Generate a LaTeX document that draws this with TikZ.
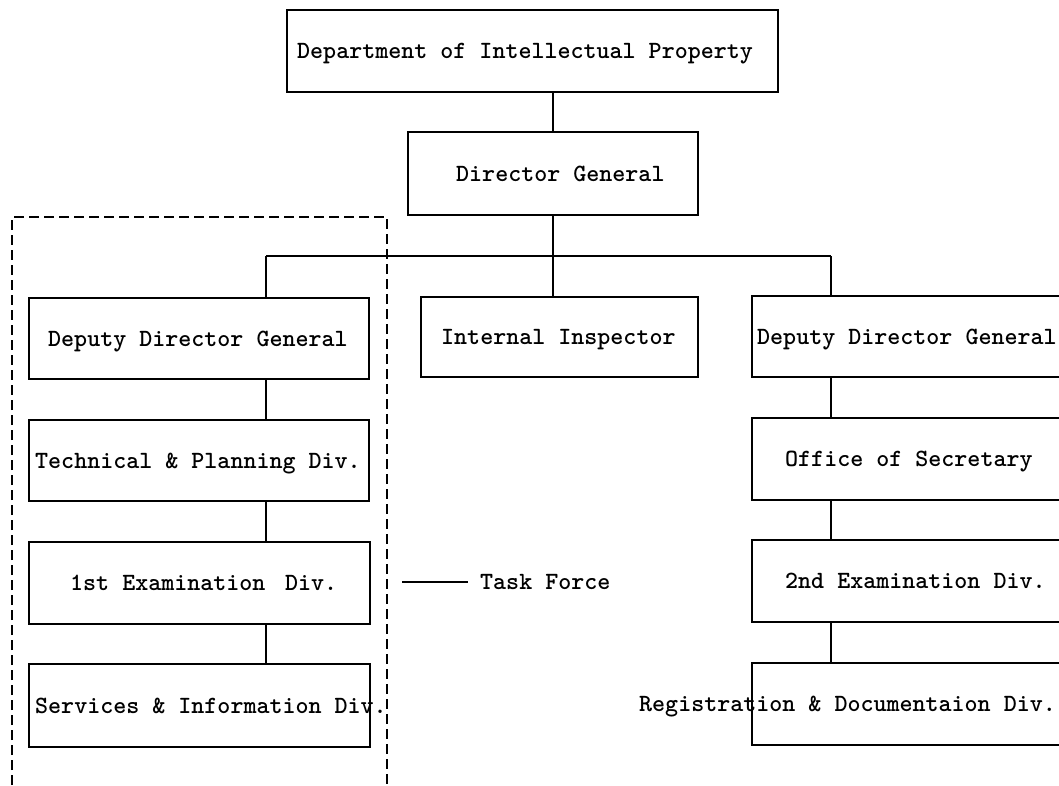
\documentclass[tikz,border=0pt]{standalone}
\begin{document}
\begin{tikzpicture}[x=1bp,y=-1bp,
  box/.style={draw, line width=1.7bp, inner sep=0pt},
  lbl/.style={anchor=base west, inner sep=0pt,
    font=\fontsize{24.8bp}{30bp}\selectfont\ttfamily\bfseries},
  link/.style={line width=2.2bp},
  taskline/.style={line width=1.6bp},
  groupframe/.style={line width=1.8bp, dash pattern=on 10bp off 5bp}]

\useasboundingbox (0,0) rectangle (1059,786);
\fill[white] (0,0) rectangle (1059,786);
\clip (0,0) rectangle (1059,786);

% boxes (centre, size)
\node[box, minimum width=491bp, minimum height=82bp] (dip)   at (532.5,51)  {};
\node[box, minimum width=290bp, minimum height=83bp] (dg)    at (553,173.5) {};
\node[box, minimum width=340bp, minimum height=81bp] (ddgL)  at (199,338.5) {};
\node[box, minimum width=277bp, minimum height=80bp] (ii)    at (559.5,337) {};
\node[box, minimum width=323bp, minimum height=81bp] (ddgR)  at (913.5,336.5) {};
\node[box, minimum width=340bp, minimum height=81bp] (tech)  at (199,460.5) {};
\node[box, minimum width=341bp, minimum height=82bp] (exam1) at (199.5,583) {};
\node[box, minimum width=341bp, minimum height=83bp] (serv)  at (199.5,705.5) {};
\node[box, minimum width=323bp, minimum height=82bp] (office) at (913.5,459) {};
\node[box, minimum width=323bp, minimum height=82bp] (exam2) at (913.5,581) {};
\node[box, minimum width=323bp, minimum height=82bp] (reg)   at (913.5,704) {};

% texts
\node[lbl] (t-dip)    at (297,58.5)  {Department of Intellectual Property};
\node[lbl] (t-dg)     at (456,181)   {Director General};
\node[lbl] (t-ddgL)   at (48,346)    {Deputy Director General};
\node[lbl] (t-ii)     at (441,344.5) {Internal Inspector};
\node[lbl] (t-ddgR)   at (757,344)   {Deputy Director General};
\node[lbl] (t-tech)   at (35,468)    {Technical \& Planning Div.};
\node[lbl] (t-exam1)  at (70,590.5)  {1st Examination\hspace{0.79em}Div.};
\node[lbl] (t-serv)   at (35,713)    {Services \& Information Div.};
\node[lbl] (t-office) at (785,466.5) {Office of Secretary};
\node[lbl] (t-exam2)  at (785,588.5) {2nd Examination Div.};
\node[lbl] (t-reg)    at (639,711.5) {Registration \& Documentaion Div.};

% bus junctions
\coordinate (busL) at (266,256);
\coordinate (busM) at (553,256);
\coordinate (busR) at (831,256);

% connectors
\draw[link] (dg.north |- dip.south) -- (dg.north);
\draw[link] (dg.south) -- (busM);
\draw[link] (busL) -- (busR);
\draw[link] (busL) -- (busL |- ddgL.north);
\draw[link] (busM) -- (busM |- ii.north);
\draw[link] (busR) -- (busR |- ddgR.north);
\draw[link] (busL |- ddgL.south) -- (busL |- tech.north);
\draw[link] (busL |- tech.south) -- (busL |- exam1.north);
\draw[link] (busL |- exam1.south) -- (busL |- serv.north);
\draw[link] (busR |- ddgR.south) -- (busR |- office.north);
\draw[link] (busR |- office.south) -- (busR |- exam2.north);
\draw[link] (busR |- exam2.south) -- (busR |- reg.north);

% task force group frame, open at the bottom
\draw[groupframe] (12,800) -- (12,217) -- (387,217) -- (387,800);

% task force legend
\node[lbl] (tf) at (480,589.5) {Task Force};
\coordinate (tfstart) at (402,582);
\draw[taskline] (tfstart) -- (tfstart -| 468,0);
\end{tikzpicture}
\end{document}
